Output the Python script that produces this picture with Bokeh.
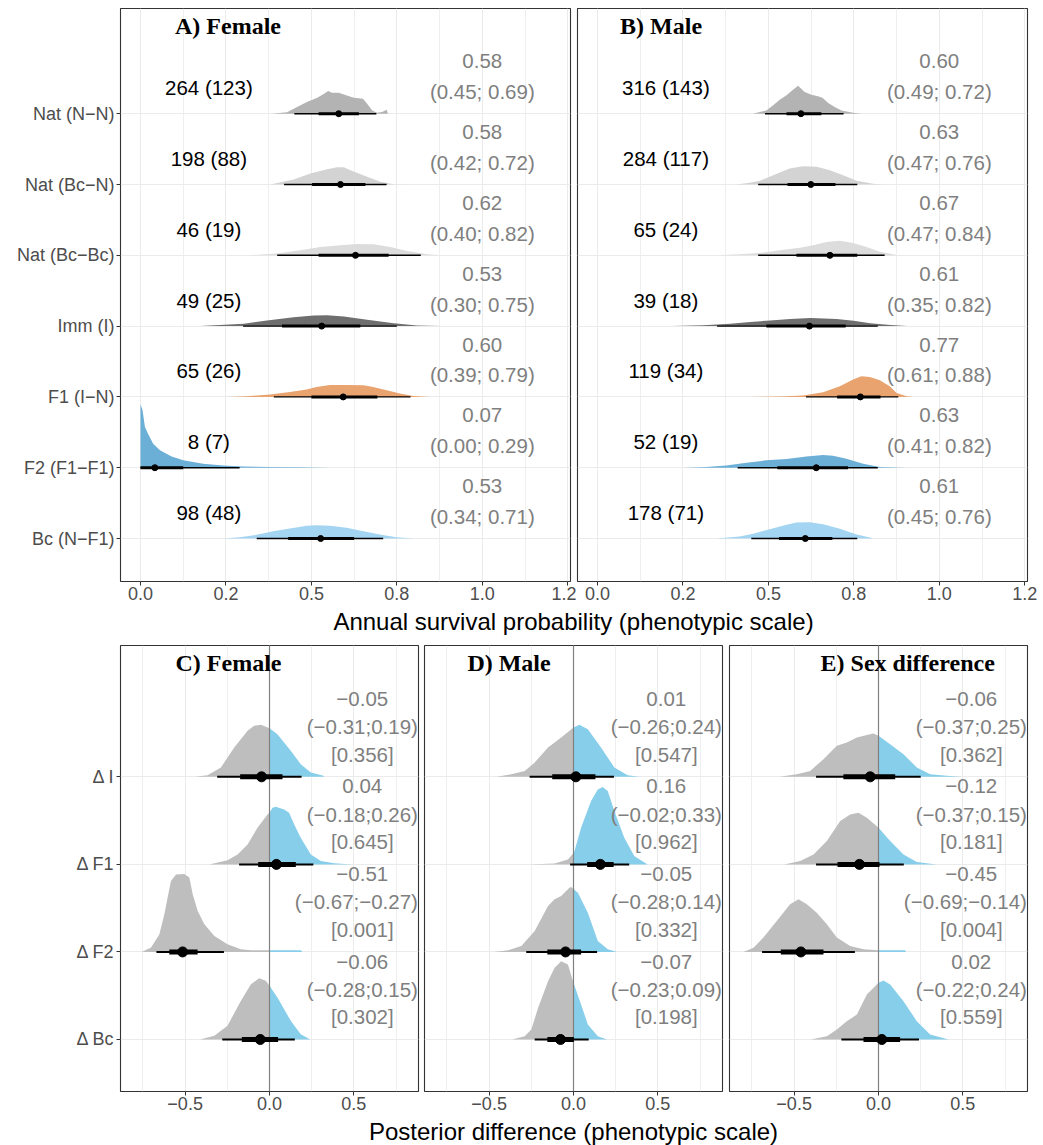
from bokeh.plotting import figure
from bokeh.layouts import column, row
from bokeh.models import FixedTicker, Range1d
from bokeh.core.properties import value
from bokeh.embed import file_html
from bokeh.resources import INLINE

# ======================= DATA: top panels =======================
groups_top = ["Nat (N−N)", "Nat (Bc−N)", "Nat (Bc−Bc)", "Imm (I)", "F1 (I−N)", "F2 (F1−F1)", "Bc (N−F1)"]
group_colors = ["#B3B3B3", "#D3D3D3", "#DCDCDC", "#6E6E6E", "#E8A36F", "#6BAED6", "#A3D4F1"]

female_n = ["264 (123)", "198 (88)", "46 (19)", "49 (25)", "65 (26)", "8 (7)", "98 (48)"]
male_n = ["316 (143)", "284 (117)", "65 (24)", "39 (18)", "119 (34)", "52 (19)", "178 (71)"]

female_est = [0.58, 0.58, 0.62, 0.53, 0.60, 0.07, 0.53]
female_lo = [0.45, 0.42, 0.40, 0.30, 0.39, 0.00, 0.34]
female_hi = [0.69, 0.72, 0.82, 0.75, 0.79, 0.29, 0.71]
female_q66_lo = [0.521, 0.502, 0.521, 0.414, 0.500, 0.000, 0.432]
female_q66_hi = [0.639, 0.658, 0.726, 0.643, 0.693, 0.125, 0.625]
female_median = [0.580, 0.585, 0.629, 0.530, 0.593, 0.042, 0.527]

male_est = [0.60, 0.63, 0.67, 0.61, 0.77, 0.63, 0.61]
male_lo = [0.49, 0.47, 0.47, 0.35, 0.61, 0.41, 0.45]
male_hi = [0.72, 0.76, 0.84, 0.82, 0.88, 0.82, 0.76]
male_q66_lo = [0.553, 0.556, 0.582, 0.494, 0.701, 0.526, 0.531]
male_q66_hi = [0.655, 0.696, 0.760, 0.726, 0.828, 0.733, 0.687]
male_median = [0.595, 0.624, 0.680, 0.620, 0.769, 0.640, 0.608]

# posterior density outlines (x, relative height)
f_nn_x = [0.383, 0.429, 0.458, 0.487, 0.517, 0.536, 0.549, 0.56, 0.58, 0.595, 0.624, 0.651, 0.663, 0.678, 0.692, 0.707, 0.72, 0.724]
f_nn_h = [0, 0.02, 0.094, 0.165, 0.226, 0.28, 0.32, 0.297, 0.297, 0.273, 0.226, 0.212, 0.141, 0.047, 0.014, 0.024, 0.056, 0]
f_bcn_x = [0.38, 0.448, 0.497, 0.546, 0.575, 0.595, 0.614, 0.663, 0.702, 0.741, 0.78]
f_bcn_h = [0, 0.07, 0.155, 0.217, 0.245, 0.245, 0.2, 0.108, 0.038, 0.005, 0]
f_bcbc_x = [0.312, 0.4, 0.468, 0.526, 0.585, 0.634, 0.682, 0.731, 0.78, 0.839, 0.878]
f_bcbc_h = [0, 0.024, 0.07, 0.118, 0.141, 0.16, 0.155, 0.118, 0.061, 0.014, 0]
f_imm_x = [0.175, 0.302, 0.37, 0.448, 0.507, 0.546, 0.595, 0.663, 0.741, 0.809, 0.88]
f_imm_h = [0, 0.033, 0.08, 0.127, 0.15, 0.155, 0.137, 0.09, 0.042, 0.01, 0]
f_f1_x = [0.252, 0.31, 0.379, 0.437, 0.486, 0.515, 0.554, 0.603, 0.652, 0.681, 0.72, 0.759, 0.798, 0.847]
f_f1_h = [0, 0.01, 0.033, 0.07, 0.104, 0.141, 0.17, 0.17, 0.165, 0.141, 0.094, 0.047, 0.014, 0]
f_f2_x = [0, 0.006, 0.013, 0.022, 0.037, 0.057, 0.076, 0.091, 0.125, 0.183, 0.242, 0.3, 0.379, 0.476, 0.55]
f_f2_h = [0.895, 0.81, 0.574, 0.48, 0.339, 0.245, 0.198, 0.16, 0.104, 0.056, 0.033, 0.019, 0.009, 0.005, 0]
f_bc_x = [0.242, 0.29, 0.34, 0.388, 0.437, 0.486, 0.515, 0.554, 0.603, 0.652, 0.7, 0.749, 0.798]
f_bc_h = [0, 0.019, 0.052, 0.104, 0.141, 0.179, 0.188, 0.179, 0.151, 0.104, 0.056, 0.019, 0]

m_nn_x = [0.455, 0.475, 0.494, 0.514, 0.533, 0.553, 0.572, 0.587, 0.606, 0.626, 0.645, 0.658, 0.675, 0.694, 0.714, 0.748, 0.772]
m_nn_h = [0, 0.024, 0.047, 0.118, 0.198, 0.259, 0.339, 0.395, 0.306, 0.268, 0.245, 0.226, 0.151, 0.094, 0.047, 0.014, 0]
m_bcn_x = [0.406, 0.445, 0.475, 0.514, 0.562, 0.601, 0.641, 0.68, 0.719, 0.758, 0.806, 0.836]
m_bcn_h = [0, 0.024, 0.052, 0.132, 0.226, 0.259, 0.25, 0.202, 0.132, 0.052, 0.01, 0]
m_bcbc_x = [0.348, 0.416, 0.475, 0.533, 0.592, 0.631, 0.67, 0.709, 0.748, 0.787, 0.826, 0.875, 0.904]
m_bcbc_h = [0, 0.014, 0.033, 0.07, 0.108, 0.141, 0.188, 0.207, 0.174, 0.118, 0.052, 0.005, 0]
m_imm_x = [0.218, 0.31, 0.388, 0.447, 0.505, 0.564, 0.623, 0.662, 0.7, 0.749, 0.798, 0.857, 0.906]
m_imm_h = [0, 0.014, 0.033, 0.057, 0.08, 0.1, 0.113, 0.108, 0.1, 0.075, 0.042, 0.016, 0]
m_f1_x = [0.445, 0.533, 0.601, 0.66, 0.709, 0.748, 0.772, 0.797, 0.826, 0.855, 0.875, 0.904, 0.924]
m_f1_h = [0, 0.005, 0.019, 0.066, 0.151, 0.245, 0.292, 0.282, 0.235, 0.151, 0.057, 0.01, 0]
m_f2_x = [0.25, 0.318, 0.377, 0.436, 0.494, 0.553, 0.611, 0.66, 0.689, 0.728, 0.777, 0.826, 0.904]
m_f2_h = [0, 0.01, 0.033, 0.071, 0.104, 0.122, 0.16, 0.179, 0.17, 0.127, 0.056, 0.01, 0]
m_bc_x = [0.348, 0.416, 0.455, 0.504, 0.553, 0.582, 0.621, 0.66, 0.709, 0.758, 0.797, 0.806]
m_bc_h = [0, 0.028, 0.066, 0.132, 0.193, 0.226, 0.231, 0.202, 0.137, 0.056, 0.014, 0]

top_x_ticks = [0, 0.25, 0.5, 0.75, 1.0, 1.25]
top_x_labels = ["0.0", "0.2", "0.5", "0.8", "1.0", "1.2"]
top_x_minor = [0.125, 0.375, 0.625, 0.875, 1.125]

# ======================= DATA: bottom panels =======================
groups_bot = ["Δ I", "Δ F1", "Δ F2", "Δ Bc"]

c_est = [-0.05, 0.04, -0.51, -0.06]
c_lo = [-0.31, -0.18, -0.67, -0.28]
c_hi = [0.19, 0.26, -0.27, 0.15]
c_p = ["0.356", "0.645", "0.001", "0.302"]
c_q66_lo = [-0.174, -0.067, -0.594, -0.164]
c_q66_hi = [0.077, 0.156, -0.426, 0.051]
c_median = [-0.047, 0.041, -0.515, -0.055]

d_est = [0.01, 0.16, -0.05, -0.07]
d_lo = [-0.26, -0.02, -0.28, -0.23]
d_hi = [0.24, 0.33, 0.14, 0.09]
d_p = ["0.547", "0.962", "0.332", "0.198"]
d_q66_lo = [-0.126, 0.081, -0.155, -0.155]
d_q66_hi = [0.13, 0.238, 0.045, 0.002]
d_median = [0.014, 0.159, -0.047, -0.077]

e_est = [-0.06, -0.12, -0.45, 0.02]
e_lo = [-0.37, -0.37, -0.69, -0.22]
e_hi = [0.25, 0.15, -0.14, 0.24]
e_p = ["0.362", "0.181", "0.004", "0.559"]
e_q66_lo = [-0.208, -0.243, -0.579, -0.089]
e_q66_hi = [0.099, 0.006, -0.326, 0.128]
e_median = [-0.049, -0.113, -0.46, 0.02]

c_i_x = [-0.442, -0.367, -0.288, -0.209, -0.13, -0.091, -0.051, 0, 0.047, 0.126, 0.185, 0.245, 0.32, 0.324]
c_i_h = [0, 0.019, 0.107, 0.335, 0.525, 0.582, 0.594, 0.556, 0.487, 0.297, 0.145, 0.049, 0.012, 0]
c_f1_x = [-0.357, -0.249, -0.189, -0.13, -0.071, -0.012, 0, 0.018, 0.037, 0.087, 0.116, 0.146, 0.185, 0.245, 0.304, 0.383, 0.491]
c_f1_h = [0, 0.046, 0.114, 0.228, 0.419, 0.571, 0.59, 0.647, 0.658, 0.628, 0.59, 0.457, 0.304, 0.114, 0.038, 0.012, 0]
c_f2_x = [-0.757, -0.702, -0.653, -0.623, -0.604, -0.584, -0.554, -0.505, -0.475, -0.455, -0.426, -0.387, -0.327, -0.249, -0.17, -0.11, -0.012, 0, 0.185, 0.195]
c_f2_h = [0, 0.05, 0.2, 0.43, 0.62, 0.81, 0.885, 0.89, 0.85, 0.66, 0.47, 0.32, 0.183, 0.088, 0.03, 0.019, 0.02, 0.02, 0.02, 0]
c_bc_x = [-0.412, -0.327, -0.249, -0.17, -0.11, -0.061, -0.022, 0, 0.047, 0.126, 0.185, 0.241]
c_bc_h = [0, 0.042, 0.156, 0.441, 0.632, 0.7, 0.67, 0.613, 0.479, 0.213, 0.061, 0]

d_i_x = [-0.456, -0.368, -0.289, -0.23, -0.151, -0.073, 0, 0.035, 0.085, 0.163, 0.242, 0.321, 0.39]
d_i_h = [0, 0.03, 0.068, 0.164, 0.335, 0.449, 0.563, 0.594, 0.544, 0.335, 0.107, 0.019, 0]
d_f1_x = [-0.264, -0.112, -0.033, 0, 0.006, 0.045, 0.104, 0.144, 0.173, 0.203, 0.242, 0.301, 0.36, 0.439]
d_f1_h = [0, 0.011, 0.057, 0.13, 0.152, 0.419, 0.723, 0.856, 0.883, 0.837, 0.609, 0.304, 0.095, 0]
d_f2_x = [-0.47, -0.387, -0.309, -0.23, -0.151, -0.112, -0.073, -0.024, -0.014, 0, 0.026, 0.085, 0.144, 0.203, 0.258]
d_f2_h = [0, 0.019, 0.068, 0.24, 0.525, 0.601, 0.639, 0.734, 0.742, 0.72, 0.677, 0.449, 0.126, 0.03, 0]
d_bc_x = [-0.364, -0.289, -0.25, -0.21, -0.151, -0.112, -0.073, -0.033, 0, 0.045, 0.085, 0.144, 0.199]
d_bc_h = [0, 0.038, 0.114, 0.361, 0.666, 0.818, 0.894, 0.856, 0.647, 0.4, 0.171, 0.038, 0]

e_i_x = [-0.587, -0.484, -0.405, -0.326, -0.247, -0.188, -0.128, -0.069, -0.03, 0, 0.069, 0.148, 0.227, 0.306, 0.405, 0.494]
e_i_h = [0, 0.03, 0.068, 0.202, 0.354, 0.392, 0.449, 0.479, 0.495, 0.468, 0.373, 0.259, 0.107, 0.03, 0.012, 0]
e_f1_x = [-0.559, -0.464, -0.385, -0.306, -0.227, -0.168, -0.119, -0.069, 0, 0.069, 0.148, 0.227, 0.342]
e_f1_h = [0, 0.038, 0.114, 0.266, 0.495, 0.571, 0.59, 0.533, 0.419, 0.266, 0.114, 0.027, 0]
e_f2_x = [-0.8, -0.741, -0.682, -0.603, -0.524, -0.474, -0.425, -0.366, -0.306, -0.247, -0.168, -0.089, 0, 0.158, 0.162]
e_f2_h = [0, 0.049, 0.164, 0.354, 0.544, 0.601, 0.544, 0.449, 0.316, 0.164, 0.068, 0.03, 0.02, 0.02, 0]
e_bc_x = [-0.401, -0.306, -0.247, -0.188, -0.128, -0.069, 0, 0.03, 0.069, 0.148, 0.227, 0.306, 0.415]
e_bc_h = [0, 0.038, 0.114, 0.209, 0.285, 0.514, 0.647, 0.674, 0.628, 0.438, 0.209, 0.057, 0]

bot_x_ticks = [-0.5, 0, 0.5]
bot_x_labels = ["−0.5", "0.0", "0.5"]
bot_x_minor = [-0.75, -0.25, 0.25, 0.75]

NEG_COLOR = "#BEBEBE"
POS_COLOR = "#87CEEB"

# ======================= STYLE =======================
SANS = "Liberation Sans"
SERIF = "Liberation Serif"
GRID = "#EBEBEB"
TICK_TXT = "#4D4D4D"
EST_TXT = "#7F7F7F"
TICK_FS = "18px"
LAB_FS = "20.5px"
TITLE_FS = "24px"
AXTITLE_FS = "24px"


def fmt(v):
    return f"{v:.2f}".replace("-", "−")


def base_fig(width, height, xr, yr, bl, br, bt, bb, xticks, xlabels, xminor, yticks, ylabels):
    p = figure(width=width, height=height, x_range=Range1d(*xr), y_range=Range1d(*yr),
               toolbar_location=None, output_backend="svg",
               min_border_left=bl, min_border_right=br, min_border_top=bt, min_border_bottom=bb)
    p.outline_line_color = "#333333"
    p.outline_line_width = 1.1
    p.background_fill_color = "white"
    p.border_fill_color = "white"
    xt = FixedTicker(ticks=xticks, minor_ticks=xminor)
    p.xaxis.ticker = xt
    p.xgrid.ticker = xt
    p.xaxis.major_label_overrides = {t: l for t, l in zip(xticks, xlabels)}
    p.xgrid.grid_line_color = GRID
    p.xgrid.grid_line_width = 1.0
    p.xgrid.minor_grid_line_color = GRID
    p.xgrid.minor_grid_line_width = 0.8
    yt = FixedTicker(ticks=yticks, minor_ticks=[])
    p.yaxis.ticker = yt
    p.ygrid.ticker = yt
    p.ygrid.grid_line_color = GRID
    p.ygrid.grid_line_width = 1.0
    for ax in (p.xaxis[0], p.yaxis[0]):
        ax.axis_line_color = None
        ax.major_tick_line_color = "#333333"
        ax.major_tick_out = 4
        ax.major_tick_in = 0
        ax.minor_tick_line_color = None
        ax.major_label_text_font = SANS
        ax.major_label_text_font_size = TICK_FS
        ax.major_label_text_color = TICK_TXT
        ax.major_label_standoff = 1
    p.yaxis.major_label_standoff = 2
    if ylabels is None:
        p.yaxis.visible = False
    else:
        p.yaxis.major_label_overrides = {t: l for t, l in zip(yticks, ylabels)}
    return p


def draw_top(p, dens, n_lab, est, lo, hi, qlo, qhi, med, title, title_x):
    ys = [7 - i for i in range(7)]
    for i, (dx, dh) in enumerate(dens):
        y0 = ys[i]
        p.varea(x=dx, y1=[y0] * len(dx), y2=[y0 + h for h in dh], fill_color=group_colors[i])
    p.segment(x0=lo, y0=ys, x1=hi, y1=ys, line_width=1.4, line_color="black")
    p.segment(x0=qlo, y0=ys, x1=qhi, y1=ys, line_width=3.0, line_color="black")
    p.scatter(x=med, y=ys, size=6, fill_color="black", line_color="black")
    p.text(x=[0.2] * 7, y=[y + 0.367 for y in ys], text=n_lab, text_font=value(SANS),
           text_font_size=LAB_FS, text_align="center", text_baseline="middle", text_color="black")
    p.text(x=[1.0] * 7, y=[y + 0.74 for y in ys], text=[fmt(v) for v in est], text_font=value(SANS),
           text_font_size=LAB_FS, text_align="center", text_baseline="middle", text_color=EST_TXT)
    p.text(x=[1.0] * 7, y=[y + 0.31 for y in ys],
           text=[f"({fmt(a)}; {fmt(b)})" for a, b in zip(lo, hi)], text_font=value(SANS),
           text_font_size=LAB_FS, text_align="center", text_baseline="middle", text_color=EST_TXT)
    p.text(x=[title_x], y=[8.24], text=[title], text_font=value(SERIF), text_font_style="bold",
           text_font_size=TITLE_FS, text_align="center", text_baseline="middle", text_color="black")


def draw_bot(p, dens, est, lo, hi, pv, qlo, qhi, med, title, title_x):
    ys = [4 - i for i in range(4)]
    for i, (dx, dh) in enumerate(dens):
        y0 = ys[i]
        lx = [x for x in dx if x <= 0]
        lh = [h for x, h in zip(dx, dh) if x <= 0]
        rx = [x for x in dx if x >= 0]
        rh = [h for x, h in zip(dx, dh) if x >= 0]
        if len(lx) > 1:
            p.varea(x=lx, y1=[y0] * len(lx), y2=[y0 + h for h in lh], fill_color=NEG_COLOR)
        if len(rx) > 1:
            p.varea(x=rx, y1=[y0] * len(rx), y2=[y0 + h for h in rh], fill_color=POS_COLOR)
    p.segment(x0=[0], y0=[0.406], x1=[0], y1=[5.5], line_color="#808080", line_width=1.2)
    p.segment(x0=lo, y0=ys, x1=hi, y1=ys, line_width=2.0, line_color="black")
    p.segment(x0=qlo, y0=ys, x1=qhi, y1=ys, line_width=5.0, line_color="black")
    p.scatter(x=med, y=ys, size=10, fill_color="black", line_color="black")
    common = dict(text_font=value(SANS), text_font_size=LAB_FS, text_align="center",
                  text_baseline="middle", text_color=EST_TXT)
    ci_txt = [f"({fmt(a)};{fmt(b)})" for a, b in zip(lo, hi)]
    # the widest interval labels (two negative bounds) are nudged left to stay inside the panel
    ci_x = [0.515 if (a < 0 and b < 0) else 0.55 for a, b in zip(lo, hi)]
    p.text(x=[0.55] * 4, y=[y + 0.89 for y in ys], text=[fmt(v) for v in est], **common)
    p.text(x=ci_x, y=[y + 0.575 for y in ys], text=ci_txt, **common)
    p.text(x=[0.55] * 4, y=[y + 0.26 for y in ys], text=[f"[{v}]" for v in pv], **common)
    p.text(x=[title_x], y=[5.295], text=[title], text_font=value(SERIF), text_font_style="bold",
           text_font_size=TITLE_FS, text_align="center", text_baseline="middle", text_color="black")


TOP_XR = (-0.0585, 1.258)
TOP_YR = (0.393, 8.486)
BOT_XR = (-0.883, 0.883)
BOT_YR = (0.406, 5.5)
top_yticks = [7, 6, 5, 4, 3, 2, 1]
bot_yticks = [4, 3, 2, 1]

pA = base_fig(576, 607, TOP_XR, TOP_YR, 120, 6, 8, 26, top_x_ticks, top_x_labels,
              top_x_minor, top_yticks, groups_top)
pB = base_fig(467, 607, TOP_XR, TOP_YR, 1, 16, 8, 26, top_x_ticks, top_x_labels,
              top_x_minor, top_yticks, None)

dens_f = [(f_nn_x, f_nn_h), (f_bcn_x, f_bcn_h), (f_bcbc_x, f_bcbc_h), (f_imm_x, f_imm_h),
          (f_f1_x, f_f1_h), (f_f2_x, f_f2_h), (f_bc_x, f_bc_h)]
dens_m = [(m_nn_x, m_nn_h), (m_bcn_x, m_bcn_h), (m_bcbc_x, m_bcbc_h), (m_imm_x, m_imm_h),
          (m_f1_x, m_f1_h), (m_f2_x, m_f2_h), (m_bc_x, m_bc_h)]

draw_top(pA, dens_f, female_n, female_est, female_lo, female_hi, female_q66_lo, female_q66_hi,
         female_median, "A) Female", 0.256)
draw_top(pB, dens_m, male_n, male_est, male_lo, male_hi, male_q66_lo, male_q66_hi,
         male_median, "B) Male", 0.186)

pC = base_fig(421, 476, BOT_XR, BOT_YR, 120, 3, 4, 26, bot_x_ticks, bot_x_labels, bot_x_minor,
              bot_yticks, groups_bot)
pD = base_fig(304, 476, BOT_XR, BOT_YR, 3, 3, 4, 26, bot_x_ticks, bot_x_labels, bot_x_minor,
              bot_yticks, None)
pE = base_fig(318, 476, BOT_XR, BOT_YR, 4, 16, 4, 26, bot_x_ticks, bot_x_labels, bot_x_minor,
              bot_yticks, None)

draw_bot(pC, [(c_i_x, c_i_h), (c_f1_x, c_f1_h), (c_f2_x, c_f2_h), (c_bc_x, c_bc_h)],
         c_est, c_lo, c_hi, c_p, c_q66_lo, c_q66_hi, c_median, "C) Female", -0.243)
draw_bot(pD, [(d_i_x, d_i_h), (d_f1_x, d_f1_h), (d_f2_x, d_f2_h), (d_bc_x, d_bc_h)],
         d_est, d_lo, d_hi, d_p, d_q66_lo, d_q66_hi, d_median, "D) Male", -0.382)
draw_bot(pE, [(e_i_x, e_i_h), (e_f1_x, e_f1_h), (e_f2_x, e_f2_h), (e_bc_x, e_bc_h)],
         e_est, e_lo, e_hi, e_p, e_q66_lo, e_q66_hi, e_median, "E) Sex difference", 0.173)


def title_fig(h, txt, y):
    t = figure(width=1043, height=h, x_range=Range1d(0, 1043), y_range=Range1d(0, h),
               toolbar_location=None, output_backend="svg", x_axis_location=None,
               y_axis_location=None, min_border=0)
    t.outline_line_color = None
    t.grid.visible = False
    t.text(x=[573], y=[y], text=[txt], text_font=value(SANS), text_font_size=AXTITLE_FS,
           text_align="center", text_baseline="middle", text_color="black")
    return t


t1 = title_fig(34, "Annual survival probability (phenotypic scale)", 20)
t2 = title_fig(28, "Posterior difference (phenotypic scale)", 14)

layout = column(row(pA, pB), t1, row(pC, pD, pE), t2)
open("out.html", "w").write(file_html(layout, INLINE))
